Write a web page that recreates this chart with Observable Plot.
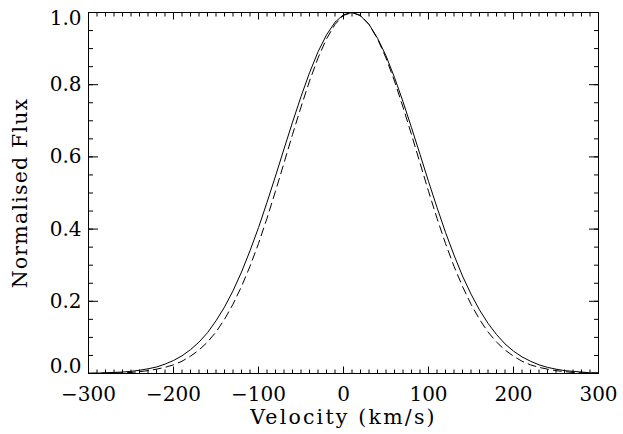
<!DOCTYPE html>
<html><head><meta charset="utf-8">
<script src="https://cdn.jsdelivr.net/npm/d3@7"></script>
<script src="https://cdn.jsdelivr.net/npm/@observablehq/plot@0.6"></script>
<style>
html,body{margin:0;padding:0;background:#fff;}
</style>
</head><body><div id="chart"></div>
<script>
const velocity = [-300,-290,-280,-270,-260,-250,-240,-230,-220,-210,-200,-190,-180,-170,-160,-150,-140,-130,-120,-110,-100,-90,-80,-70,-60,-50,-40,-30,-20,-10,0,10,20,30,40,50,60,70,80,90,100,110,120,130,140,150,160,170,180,190,200,210,220,230,240,250,260,270,280,290,300];
const fluxSolid = [0.001,0.001,0.002,0.003,0.004,0.006,0.009,0.013,0.018,0.026,0.036,0.049,0.066,0.087,0.113,0.146,0.184,0.229,0.281,0.340,0.404,0.474,0.547,0.622,0.696,0.767,0.833,0.891,0.938,0.973,0.994,1.000,0.991,0.967,0.929,0.880,0.820,0.753,0.681,0.607,0.532,0.460,0.391,0.328,0.270,0.220,0.176,0.139,0.108,0.082,0.062,0.046,0.034,0.024,0.017,0.012,0.008,0.006,0.004,0.002,0.002];
const fluxDashed = [0.000,0.001,0.001,0.001,0.002,0.003,0.005,0.008,0.012,0.017,0.024,0.034,0.048,0.065,0.087,0.115,0.150,0.192,0.241,0.297,0.360,0.430,0.505,0.583,0.662,0.738,0.810,0.874,0.927,0.967,0.992,1.000,0.992,0.967,0.927,0.874,0.810,0.738,0.662,0.583,0.505,0.430,0.360,0.297,0.241,0.192,0.150,0.115,0.087,0.065,0.048,0.034,0.024,0.017,0.012,0.008,0.005,0.003,0.002,0.001,0.001];
const xTicks = [-300,-200,-100,0,100,200,300];
const xMinorTicks = d3.range(-300, 301, 10);
const yMidTicks = [0.2,0.4,0.6,0.8];
const yMinorTicks = d3.range(0, 21).map(i => i * 0.05);
const yAllTicks = [0,0.2,0.4,0.6,0.8,1.0];
const xTitle = "Velocity (km/s)";
const yTitle = "Normalised Flux";

const solid = velocity.map((v, i) => ({v, f: fluxSolid[i]}));
const dashed = velocity.map((v, i) => ({v, f: fluxDashed[i]}));
const fmtX = d => d < 0 ? "\u2212" + (-d) : String(d);
const fmtY = d => d.toFixed(1);
const blank = () => "";

const plot = Plot.plot({
  width: 623,
  height: 434,
  marginLeft: 88,
  marginRight: 25,
  marginTop: 12,
  marginBottom: 61,
  style: {fontFamily: "'DejaVu Serif', serif", fontSize: "20px", color: "#000", background: "#fff"},
  x: {domain: [-300, 300]},
  y: {domain: [0, 1]},
  marks: [
    Plot.frame({stroke: "#000", strokeWidth: 1}),
    // minor ticks
    Plot.axisX({ticks: xMinorTicks, anchor: "bottom", tickSize: -3.5, tickFormat: blank, label: null}),
    Plot.axisX({ticks: xMinorTicks, anchor: "top", tickSize: -3.5, tickFormat: blank, label: null}),
    Plot.axisY({ticks: yMinorTicks, anchor: "left", tickSize: -5, tickFormat: blank, label: null}),
    Plot.axisY({ticks: yMinorTicks, anchor: "right", tickSize: -5, tickFormat: blank, label: null}),
    // major ticks
    Plot.axisX({ticks: xTicks, anchor: "bottom", tickSize: -6.5, tickFormat: blank, label: null}),
    Plot.axisX({ticks: xTicks, anchor: "top", tickSize: -6.5, tickFormat: blank, label: null}),
    Plot.axisY({ticks: yAllTicks, anchor: "left", tickSize: -10, tickFormat: blank, label: null}),
    Plot.axisY({ticks: yAllTicks, anchor: "right", tickSize: -10, tickFormat: blank, label: null}),
    // labels
    Plot.axisX({ticks: xTicks, anchor: "bottom", tickSize: 0, tickPadding: 13, tickFormat: fmtX, label: null, fontSize: 20}),
    Plot.axisY({ticks: yMidTicks, anchor: "left", tickSize: 0, tickPadding: 7, tickFormat: fmtY, label: null, fontSize: 20}),
    Plot.axisY({ticks: [0], anchor: "left", tickSize: 0, tickPadding: 7, tickFormat: fmtY, label: null, fontSize: 20, dy: -7}),
    Plot.axisY({ticks: [1], anchor: "left", tickSize: 0, tickPadding: 7, tickFormat: fmtY, label: null, fontSize: 20, dy: 6.5}),
    Plot.text([xTitle], {frameAnchor: "bottom", dy: 44, text: d => d, fontSize: 20.5, textAnchor: "middle", lineAnchor: "middle", fill: "#000"}),
    Plot.text([yTitle], {frameAnchor: "left", dx: -68, rotate: -90, text: d => d, fontSize: 20.5, textAnchor: "middle", lineAnchor: "middle", fill: "#000"}),
    Plot.line(solid, {x: "v", y: "f", stroke: "#000", strokeWidth: 1}),
    Plot.line(dashed, {x: "v", y: "f", stroke: "#000", strokeWidth: 1, strokeDasharray: "8,5"})
  ]
});
plot.querySelectorAll("text").forEach(t => {
  const s = t.textContent;
  if (s === xTitle) t.setAttribute("letter-spacing", "2.2");
  if (s === yTitle) t.setAttribute("letter-spacing", "1.2");
});
document.getElementById("chart").appendChild(plot);
</script>
</body></html>
